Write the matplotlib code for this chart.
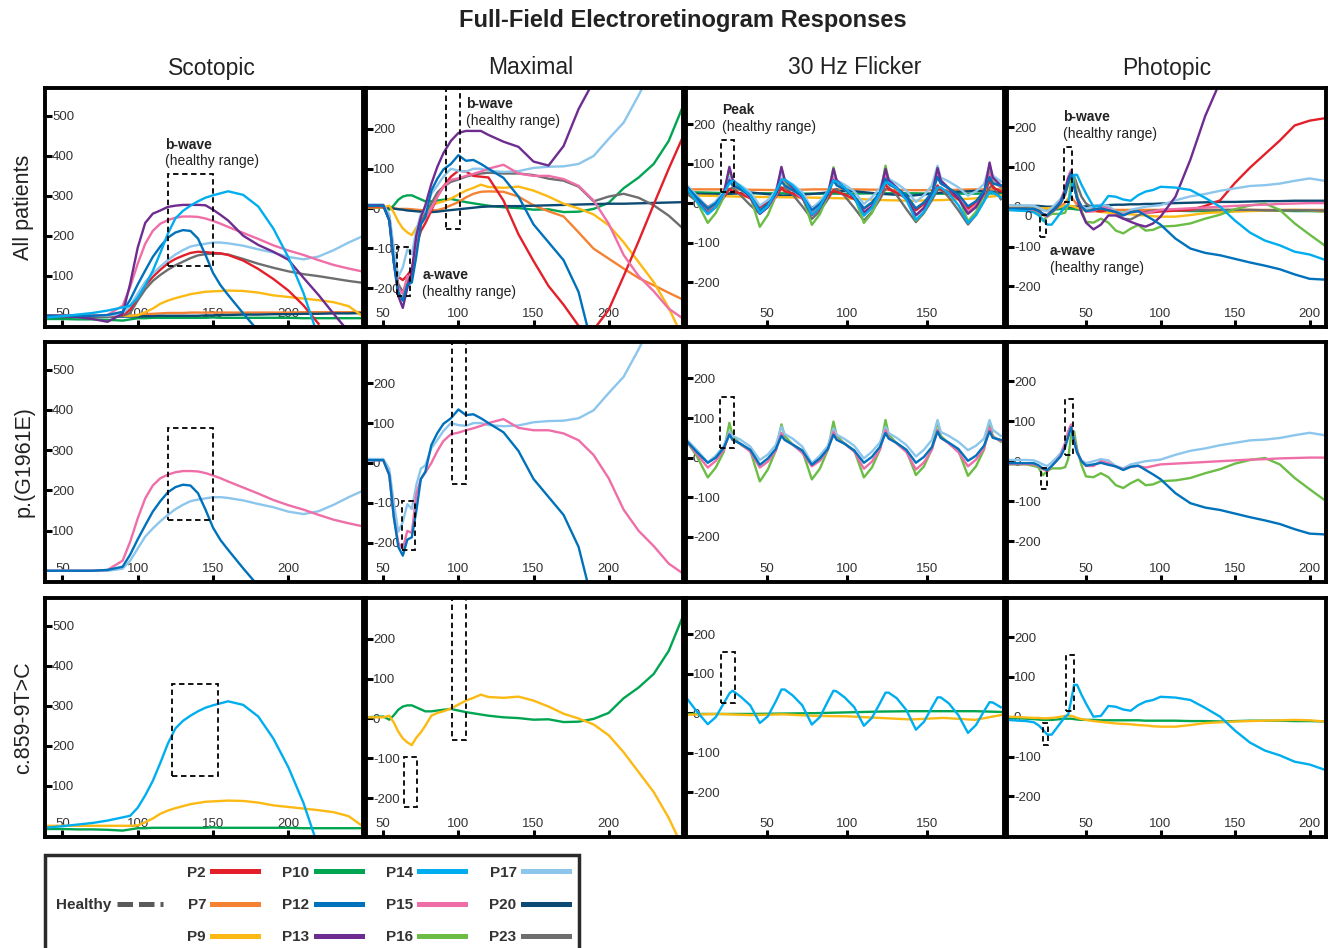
import numpy as np
import matplotlib
matplotlib.use("Agg")
import matplotlib.pyplot as plt
from matplotlib.patches import Rectangle
from matplotlib.lines import Line2D

plt.rcParams['font.family'] = ['Liberation Sans', 'DejaVu Sans']
nan = np.nan

# ---------------- data ----------------
patients = ["P2", "P7", "P9", "P10", "P12", "P13", "P14", "P15", "P16", "P17", "P20", "P23"]
colors = ["#E3202A", "#F58232", "#FDB913", "#00A551", "#0071BB", "#6E2C91",
          "#00AEEF", "#EF6EA8", "#6BBD45", "#8CC6EC", "#0C4A73", "#6D6E70"]

# Scotopic
scot_x = [38, 50, 60, 70, 80, 90, 95, 100, 105, 110, 115, 120, 125, 130, 135, 140, 145,
          150, 155, 160, 170, 180, 190, 200, 210, 220, 230, 240, 250]
scot_p2 = [0, 0, 0, 0, 0, 2, 15, 47, 75, 97, 115, 131, 142, 150, 157, 160, 159, 157, 156, 152,
           138, 117, 92, 63, 26, -20, nan, nan, nan]
scot_p7 = [0, 0, 0, 0, 0, 0, 0, 2, 4, 5, 6, 7, 7, 7, 8, 8, 8, 8, 8, 8, 8, 8, 8, 8, 9, 9, 9, 9, 9]
scot_p9 = [0, 0, 0, 0, 0, 0, 0, 1, 9, 18, 30, 38, 44, 49, 54, 57, 60, 61, 62, 63, 62, 58, 51, 47,
           43, 39, 34, 24, -3]
scot_p10 = [-8, -8, -9, -9, -10, -12, -9, -6, -6, -5, -5, -5, -5, -5, -5, -5, -5, -4, -5, -5, -5,
            -5, -5, -5, -6, -6, -6, -6, -6]
scot_p12 = [0, 0, 0, 0, 2, 10, 40, 78, 113, 147, 173, 195, 208, 214, 212, 193, 152, 107, 76, 52,
            6, -38, nan, nan, nan, nan, nan, nan, nan]
scot_p13 = [0, 0, -3, -8, -15, 5, 80, 170, 232, 255, 263, 272, 275, 277, 277, 277, 276, 265, 252,
            238, 200, 177, 160, 140, 95, 52, 5, -40, nan]
scot_p14 = [-5, -1, 3, 7, 13, 21, 25, 45, 76, 112, 157, 205, 243, 262, 275, 286, 295, 301, 306,
            311, 302, 273, 218, 146, 57, -55, nan, nan, nan]
scot_p15 = [0, 0, 0, 0, 2, 25, 72, 130, 180, 212, 230, 239, 245, 248, 248, 247, 243, 237, 230,
            222, 207, 192, 176, 163, 152, 139, 127, 118, 110]
scot_p17 = [0, 0, 0, 0, 0, 5, 25, 55, 85, 105, 123, 139, 153, 164, 173, 177, 180, 183, 183, 181,
            175, 166, 158, 147, 141, 148, 164, 183, 200]
scot_p20 = [-3, -3, -3, -2, -2, -2, -2, -2, -1, -1, 0, 0, 0, 0, 0, 0, 1, 1, 2, 2, 3, 3, 4, 4, 5,
            5, 6, 6, 7]
scot_p23 = [-2, -2, -2, -2, -2, 0, 7, 38, 66, 87, 102, 115, 126, 135, 144, 151, 154, 155, 155,
            153, 142, 130, 120, 111, 104, 99, 93, 87, 82]

# Maximal
max_x = [38, 50, 54, 57, 60, 63, 66, 69, 72, 75, 78, 82, 86, 90, 95, 100, 105, 110, 115, 120,
         130, 140, 150, 160, 170, 180, 190, 200, 210, 220, 230, 240, 250]
max_p2 = [5, 5, -20, -120, -172, -180, -168, -152, -95, -57, -37, -5, 30, 55, 80, 95, 93, 82, 80,
          78, 20, -65, -132, -195, -242, -295, -305, -255, -170, -82, 10, 100, 185]
max_p7 = [2, 2, 2, 0, -1, -1, -1, -2, -3, -4, -5, -5, -4, 0, 8, 16, 28, 37, 42, 43, 42, 30, 8,
          -7, -20, -60, -101, -126, -151, -175, -193, -212, -230]
max_p9 = [3, 3, 7, -10, -33, -50, -60, -67, -48, -35, -18, 7, 14, 18, 25, 35, 45, 52, 60, 54, 52,
          55, 45, 30, 12, 0, -15, -42, -85, -135, -185, -250, -330]
max_p10 = [3, 5, -3, 8, 22, 30, 33, 33, 28, 23, 18, 18, 20, 22, 24, 20, 16, 13, 10, 7, 3, 1, -3,
           -2, -9, -8, -1, 14, 51, 78, 112, 170, 262]
max_p12 = [7, 7, -30, -135, -210, -232, -192, -186, -120, -40, -22, 45, 75, 98, 112, 134, 120,
           122, 112, 100, 77, 30, -40, -85, -130, -210, -360, nan, nan, nan, nan, nan, nan]
max_p13 = [8, 8, -30, -135, -220, -250, -200, -157, -68, -22, 8, 62, 105, 139, 170, 190, 195, 195,
           195, 185, 168, 155, 118, 108, 157, 250, 320, nan, nan, nan, nan, nan, nan]
max_p15 = [7, 7, -30, -135, -200, -215, -170, -175, -78, -40, -24, 0, 30, 55, 72, 76, 82, 87, 93,
           100, 110, 88, 82, 82, 74, 57, 20, -38, -117, -170, -208, -252, -278]
max_p17 = [10, 10, -15, -100, -172, -148, -103, -115, -55, -14, -6, 37, 58, 80, 100, 95, 93, 100,
           100, 95, 92, 94, 102, 105, 106, 112, 132, 175, 216, 285, 360, nan, nan]
max_p20 = [3, 3, 2, 0, -2, -3, -5, -6, -7, -8, -9, -9, -8, -6, -4, -2, 0, 2, 4, 5, 6, 6, 7, 8, 9,
           10, 11, 12, 12, 13, 14, 15, 16]
max_p23 = [7, 7, -20, -125, -190, -210, -183, -168, -100, -35, -12, 13, 40, 55, 67, 73, 80, 85,
           88, 90, 88, 88, 84, 75, 70, 55, 18, 30, 37, 27, 8, -18, -52]

# 30 Hz flicker
flk_x = [0, 6, 13, 18, 23, 26.5, 28.5, 33.5, 39.5, 45.5, 50.5, 55.5, 59, 61, 66, 72, 78, 83, 88,
         91.5, 93.5, 98.5, 104.5, 110.5, 115.5, 120.5, 124, 126, 131, 137, 143, 148, 153, 156.5,
         158.5, 163.5, 169.5, 175.5, 180.5, 185.5, 189, 191, 196]
flk_p2 = [35, 15, -10, 2, 15, 36, 30, 25, 12, -10, 2, 15, 40, 30, 25, 12, -12, 0, 15, 32, 28, 22,
          10, -14, 0, 18, 49, 35, 27, 12, -18, -2, 18, 45, 35, 27, 10, -14, 2, 20, 57, 40, 30]
flk_p12 = [41, 15, -13, 0, 25, 58, 45, 35, 20, -18, -2, 22, 55, 45, 33, 18, -18, -2, 22, 58, 45,
           35, 18, -13, 2, 27, 62, 48, 37, 20, -13, 2, 27, 66, 50, 38, 22, -8, 5, 30, 66, 50, 45]
flk_p13 = [40, 10, -27, -10, 25, 92, 60, 40, 15, -27, -10, 25, 92, 60, 40, 15, -31, -12, 22, 87,
           58, 38, 12, -23, -8, 25, 87, 58, 40, 15, -31, -12, 22, 89, 58, 38, 12, -27, -10, 25,
           103, 65, 45]
flk_p14 = [37, 5, -28, -10, 25, 50, 57, 42, 20, -25, -8, 30, 60, 60, 45, 20, -29, -10, 30, 57, 55,
           40, 15, -32, -12, 25, 52, 52, 38, 8, -42, -22, 15, 40, 40, 25, -5, -50, -30, 5, 28,
           27, 15]
flk_p15 = [40, 10, -25, -8, 20, 60, 45, 35, 15, -25, -10, 18, 62, 45, 33, 12, -22, -8, 20, 65, 47,
           35, 15, -28, -10, 20, 70, 50, 36, 14, -30, -12, 20, 70, 50, 36, 14, -22, -5, 22, 75,
           52, 42]
flk_p16 = [40, 5, -50, -25, 15, 88, 55, 33, 18, -60, -30, 18, 84, 55, 33, 18, -55, -28, 20, 91,
           55, 35, 18, -50, -25, 20, 95, 58, 36, 18, -44, -22, 22, 92, 55, 36, 18, -46, -22, 20,
           91, 55, 40]
flk_p17 = [45, 20, -12, 5, 30, 66, 55, 45, 28, -6, 8, 32, 78, 60, 48, 28, -14, 5, 30, 74, 58, 47,
           30, -2, 15, 38, 78, 62, 50, 32, 3, 20, 45, 95, 65, 55, 40, 19, 30, 48, 95, 70, 55]
flk_p23 = [24, 5, -18, -5, 15, 35, 40, 20, -5, -27, -10, 20, 38, 40, 22, -8, -40, -20, 10, 33, 36,
           18, -12, -44, -22, 10, 36, 40, 20, -15, -48, -25, 8, 34, 36, 15, -18, -54, -30, 5, 40,
           45, 10]
flk_flat_x = [0, 20, 40, 60, 80, 100, 120, 140, 160, 180, 197]
flk_p7 = [35, 35, 34, 33, 35, 35, 34, 33, 33, 35, 35]
flk_p9 = [20, 18, 16, 15, 14, 12, 8, 6, 8, 12, 20]
flk_p10 = [28, 26, 25, 25, 24, 24, 25, 25, 24, 24, 25]
flk_p20 = [24, 22, 27, 19, 24, 32, 24, 19, 27, 31, 28]
flk_p9_row3 = [-4, -2, -5, -3, -7, -8, -12, -16, -12, -17, -4]
flk_p10_row3 = [-2, -2, -2, -1, 0, 2, 4, 5, 5, 5, 3]

# Photopic
pho_x = [-3, 5, 10, 15, 18, 21, 24, 27, 30, 33, 36, 38, 40, 42, 44, 47, 50, 55, 60, 65, 70, 75,
         80, 85, 90, 95, 100, 110, 120, 130, 140, 150, 160, 170, 180, 190, 200, 210]
pho_p2 = [-6, -6, -6, -7, -10, -18, -22, -10, 0, 12, 40, 65, 78, 55, 22, 0, -12, -10, -12, -8,
          -14, -18, -12, -12, -15, -14, -12, -10, -8, 2, 16, 60, 98, 132, 166, 204, 216, 222]
pho_p7 = [-5, -5, -5, -5, -6, -8, -10, -8, -5, 0, 10, 20, 25, 15, 5, 0, -5, -6, -7, -7, -8, -8,
          -8, -8, -8, -8, -8, -8, -8, -8, -8, -8, -8, -8, -8, -8, -8, -8]
pho_p9 = [0, -1, -2, -3, -3, -4, -4, -3, -2, 0, 2, 3, 2, 0, -3, -6, -8, -11, -13, -15, -17, -18,
          -19, -21, -22, -24, -25, -25, -21, -16, -14, -12, -11, -10, -9, -8, -9, -12]
pho_p10 = [-4, -4, -5, -6, -7, -8, -8, -8, -7, -6, -5, -5, -5, -6, -7, -8, -8, -8, -9, -9, -9, -9,
           -9, -9, -10, -10, -10, -10, -11, -11, -12, -11, -10, -10, -10, -11, -11, -12]
pho_p12 = [-5, -5, -5, -5, -10, -18, -22, -12, 0, 12, 35, 60, 85, 50, 22, 0, -11, -8, -4, -9, -13,
           -22, -14, -11, -22, -33, -45, -80, -105, -116, -122, -131, -140, -148, -157, -170,
           -181, -183]
pho_p13 = [-5, -5, -5, -6, -10, -18, -22, -12, -2, 12, 40, 70, 85, 55, 20, -15, -40, -57, -45,
           -22, -22, -30, -38, -45, -50, -42, -25, 25, 118, 228, 314, nan, nan, nan, nan, nan,
           nan, nan]
pho_p14 = [-8, -10, -11, -14, -21, -32, -45, -45, -30, -15, 0, 5, 40, 80, 80, 55, 33, 0, 2, 27, 25,
           18, 15, 29, 38, 42, 50, 48, 42, 22, 0, -35, -65, -85, -97, -113, -120, -133]
pho_p15 = [-7, -7, -7, -8, -12, -20, -25, -12, 0, 15, 45, 75, 92, 55, 25, 0, -12, -12, 0, -5, -14,
           -20, -14, -12, -16, -12, -8, -6, -4, -2, 0, 2, 4, 5, 7, 8, 9, 9]
pho_p16 = [-8, -8, -8, -12, -15, -35, -25, -18, -18, -18, -15, 5, 65, 75, 30, -10, -38, -40, -30,
           -40, -60, -67, -55, -46, -60, -58, -50, -48, -42, -30, -20, -6, 3, 8, -8, -42, -70, -97]
pho_p17 = [3, 3, 3, 2, -2, -8, -12, -3, 8, 20, 45, 70, 82, 50, 20, 2, -5, 0, 5, 2, -12, -18, -8,
           -4, 0, 2, 4, 16, 26, 32, 40, 46, 52, 54, 58, 65, 71, 65]
pho_p20 = [2, 2, 2, 2, 2, 1, 0, 0, 0, 0, 0, 0, 0, 0, 0, 0, 1, 2, 3, 4, 5, 5, 6, 6, 7, 7, 8, 9, 10,
           11, 12, 12, 13, 14, 14, 15, 15, 15]
pho_p23 = [-8, -8, -8, -9, -12, -20, -25, -15, -5, 8, 30, 55, 72, 78, 55, 25, 8, -4, -8, 2, -15,
           -30, -32, -22, -13, -10, -9, -8, -9, -8, -8, -8, -8, -9, -9, -9, -9, -10]

# healthy ranges (x0, x1, y0, y1), one per row
scot_range = [(120, 150, 125, 355), (120, 150, 125, 355), (123, 153, 125, 355)]
max_bwave = [(92, 101, -52, 330), (95.7, 104.8, -52, 330), (95.7, 105.3, -53, 330)]
max_awave = [(59, 68, -220, -97), (62.5, 71.4, -217, -95), (63.6, 72.3, -222, -98)]
flk_peak = [(21.3, 29.3, 29, 160), (20.9, 29.3, 24, 153), (21.5, 29.8, 25, 156)]
pho_bwave = [(35.4, 40.8, 12, 150), (35.8, 41.5, 15, 155), (36.5, 42, 15, 154)]
pho_awave = [(19.4, 23, -75, -21), (20, 24, -70, -17), (21, 24.5, -71, -17)]

row_names = ["All patients", "p.(G1961E)", "c.859-9T>C"]
row_sets = [patients, ["P12", "P15", "P16", "P17"], ["P9", "P10", "P14"]]
col_names = ["Scotopic", "Maximal", "30 Hz Flicker", "Photopic"]

# ---------------- assemble ----------------
color_of = dict(zip(patients, colors))
scot = {"P2": scot_p2, "P7": scot_p7, "P9": scot_p9, "P10": scot_p10, "P12": scot_p12,
        "P13": scot_p13, "P14": scot_p14, "P15": scot_p15, "P17": scot_p17, "P20": scot_p20,
        "P23": scot_p23}
maxi = {"P2": max_p2, "P7": max_p7, "P9": max_p9, "P10": max_p10, "P12": max_p12,
        "P13": max_p13, "P15": max_p15, "P17": max_p17, "P20": max_p20, "P23": max_p23}
flk = {"P2": (flk_x, flk_p2), "P7": (flk_flat_x, flk_p7), "P9": (flk_flat_x, flk_p9),
       "P10": (flk_flat_x, flk_p10), "P12": (flk_x, flk_p12), "P13": (flk_x, flk_p13),
       "P14": (flk_x, flk_p14), "P15": (flk_x, flk_p15), "P16": (flk_x, flk_p16),
       "P17": (flk_x, flk_p17), "P20": (flk_flat_x, flk_p20), "P23": (flk_x, flk_p23)}
flk_row3 = dict(flk, P9=(flk_flat_x, flk_p9_row3), P10=(flk_flat_x, flk_p10_row3))
pho = {"P2": pho_p2, "P7": pho_p7, "P9": pho_p9, "P10": pho_p10, "P12": pho_p12,
       "P13": pho_p13, "P14": pho_p14, "P15": pho_p15, "P16": pho_p16, "P17": pho_p17,
       "P20": pho_p20, "P23": pho_p23}

draw_order = ["P10", "P7", "P20", "P9", "P23", "P2", "P16", "P17", "P15", "P13", "P12", "P14"]

W, H = 1330, 948
fig = plt.figure(figsize=(W / 100, H / 100), dpi=100)
col_l = [45, 366, 686, 1007]
col_r = [363, 683, 1004, 1326]
row_t = [88, 342, 598]
row_b = [327, 582, 837]

xlims = [(38.5, 249.5), (38.5, 249.5), (-0.6, 198), (-3, 211)]
ylims = [(-28, 569), (-298, 303), (-314, 292), (-302, 298)]
xticks = [[50, 100, 150, 200], [50, 100, 150, 200], [50, 100, 150], [50, 100, 150, 200]]
yticks = [[100, 200, 300, 400, 500], [-200, -100, 0, 100, 200],
          [-200, -100, 0, 100, 200], [-200, -100, 0, 100, 200]]


def box(ax, r):
    x0, x1, y0, y1 = r
    ax.add_patch(Rectangle((x0, y0), x1 - x0, y1 - y0, fill=False, ec="black",
                           lw=1.3, ls=(0, (3, 2)), zorder=5))


for i in range(3):
    for j in range(4):
        ax = fig.add_axes([col_l[j] / W, 1 - row_b[i] / H,
                           (col_r[j] - col_l[j]) / W, (row_b[i] - row_t[i]) / H])
        for name in draw_order:
            if name not in row_sets[i]:
                continue
            c = color_of[name]
            if j == 0 and name in scot:
                ax.plot(scot_x, scot[name], color=c, lw=1.7)
            elif j == 1 and name in maxi:
                ax.plot(max_x, maxi[name], color=c, lw=1.7)
            elif j == 2:
                xs, ys = (flk_row3 if i == 2 else flk)[name]
                ax.plot(xs, ys, color=c, lw=1.7)
            elif j == 3:
                ax.plot(pho_x, pho[name], color=c, lw=1.7)

        if j == 0:
            box(ax, scot_range[i])
        elif j == 1:
            box(ax, max_bwave[i])
            box(ax, max_awave[i])
        elif j == 2:
            box(ax, flk_peak[i])
        else:
            box(ax, pho_bwave[i])
            box(ax, pho_awave[i])

        ax.set_xlim(*xlims[j])
        ax.set_ylim(*ylims[j])
        ax.set_xticks(xticks[j], [str(t) for t in xticks[j]], va="bottom")
        ax.set_yticks(yticks[j], [str(t) for t in yticks[j]], ha="left")
        ax.tick_params(axis="x", direction="in", length=5, width=2.2, pad=-5,
                       labelsize=9.5, labelcolor="#333333")
        ax.tick_params(axis="y", direction="in", length=5, width=2.2, pad=-5,
                       labelsize=9.5, labelcolor="#333333")
        for sp in ax.spines.values():
            sp.set_linewidth(2.8)

        if i == 0:
            kw = dict(fontsize=10, color="#222222", va="center", ha="left", zorder=6)
            if j == 0:
                ax.text(118, 427, "b-wave", weight="bold", **kw)
                ax.text(118, 386, "(healthy range)", **kw)
            elif j == 1:
                ax.text(105, 262, "b-wave", weight="bold", **kw)
                ax.text(105, 220, "(healthy range)", **kw)
                ax.text(76, -167, "a-wave", weight="bold", **kw)
                ax.text(76, -209, "(healthy range)", **kw)
            elif j == 2:
                ax.text(22, 235, "Peak", weight="bold", **kw)
                ax.text(22, 193, "(healthy range)", **kw)
            else:
                ax.text(34.3, 225, "b-wave", weight="bold", **kw)
                ax.text(34.3, 183, "(healthy range)", **kw)
                ax.text(25.7, -112, "a-wave", weight="bold", **kw)
                ax.text(25.7, -154, "(healthy range)", **kw)
                ax.text(11, -25, "0", fontsize=9.5, color="#333333", va="center", ha="center")

fig.text(683 / W, 1 - 20 / H, "Full-Field Electroretinogram Responses", fontsize=17,
         weight="bold", ha="center", va="center", color="#222222")
col_cx = [212, 531, 855, 1167]
for j, name in enumerate(col_names):
    fig.text(col_cx[j] / W, 1 - 68 / H, name, fontsize=16.5, ha="center", va="center",
             color="#222222")
row_cy = [207, 462, 718]
for i, name in enumerate(row_names):
    fig.text(24 / W, 1 - row_cy[i] / H, name, fontsize=15.5, rotation=90, ha="center",
             va="center", color="#222222")

# legend
blank = Line2D([], [], color="none")
handles = [blank, Line2D([], [], color="#5a5a5a", lw=3.6, ls=(0, (3.1, 1.2))), blank]
labels = ["", "Healthy", ""]
for name in patients:
    handles.append(Line2D([], [], color=color_of[name], lw=3.6))
    labels.append(name)
leg = fig.legend(handles, labels, loc="upper left", bbox_to_anchor=(45 / W, 1 - 855 / H),
                 ncol=5, markerfirst=False, handlelength=3.0, handletextpad=0.4,
                 columnspacing=1.6, labelspacing=1.2, borderpad=0.7, fancybox=False,
                 edgecolor="#2a2a2a", framealpha=1, prop={"weight": "bold", "size": 11},
                 borderaxespad=0, labelcolor="#333333")
leg.get_frame().set_linewidth(2.5)

fig.savefig("out.png", dpi=100)
